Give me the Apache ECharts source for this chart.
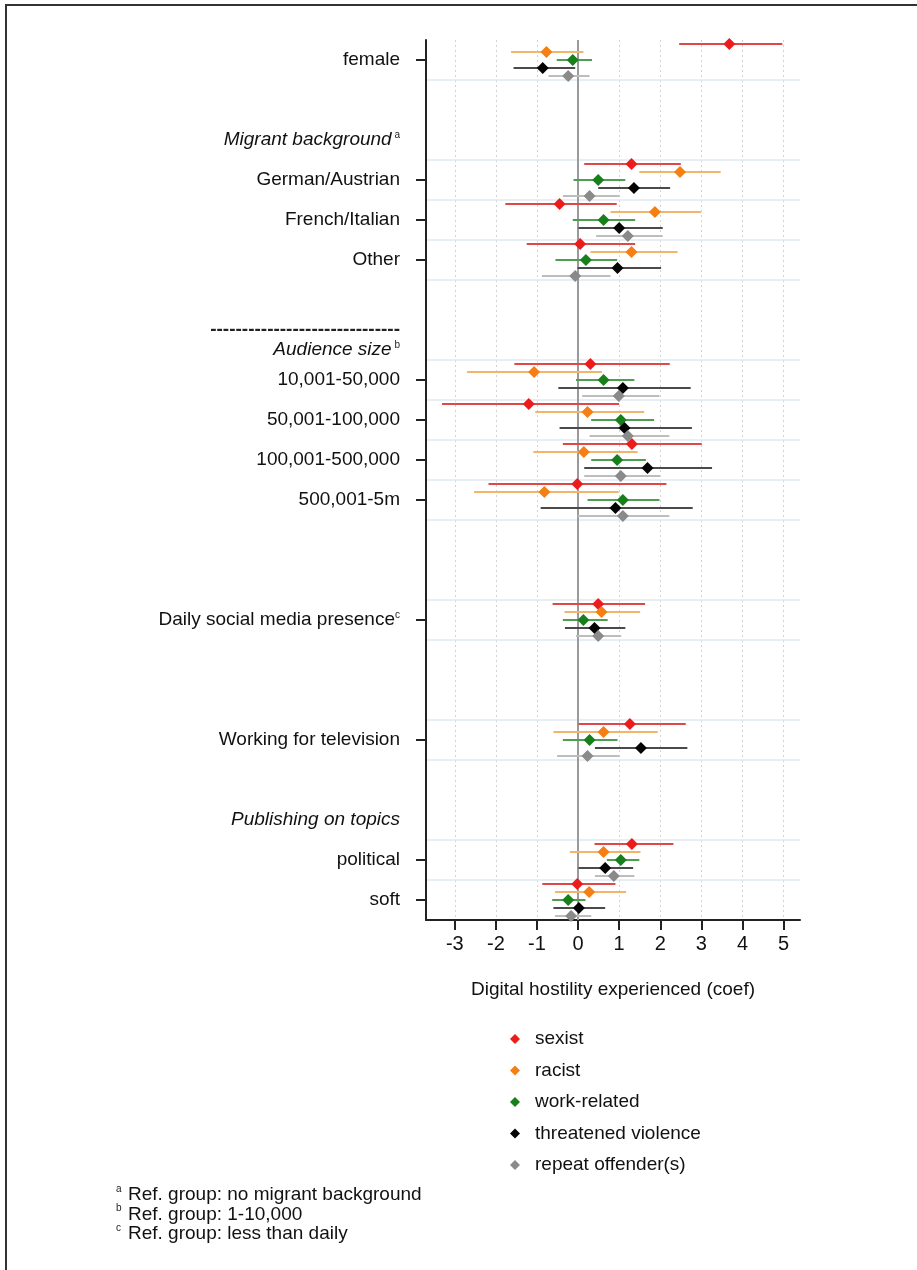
<!DOCTYPE html>
<html>
<head>
<meta charset="utf-8">
<script src="https://cdn.jsdelivr.net/npm/echarts@6/dist/echarts.min.js"></script>
<style>
html,body{margin:0;padding:0;background:#fff;}
#c{width:917px;height:1270px;}
</style>
</head>
<body>
<div id="c"></div>
<script>
// ---------------- DATA ----------------
const rowLabels = ['female','German/Austrian','French/Italian','Other',
  '10,001-50,000','50,001-100,000','100,001-500,000','500,001-5m',
  'Daily social media presence','Working for television','political','soft'];
const seriesNames = ['sexist','racist','work-related','threatened violence','repeat offender(s)'];
const xTicks = [-3,-2,-1,0,1,2,3,4,5];

const sexistCoef = [3.68, 1.30, -0.45, 0.05, 0.30, -1.20, 1.31, -0.02, 0.49, 1.26, 1.31, -0.02];
const sexistLo   = [2.46, 0.15, -1.77, -1.25, -1.55, -3.31, -0.37, -2.18, -0.62, 0.01, 0.40, -0.87];
const sexistHi   = [4.97, 2.50, 0.94, 1.39, 2.23, 1.00, 3.01, 2.15, 1.63, 2.62, 2.32, 0.91];

const racistCoef = [-0.77, 2.48, 1.87, 1.30, -1.07, 0.23, 0.14, -0.82, 0.57, 0.62, 0.62, 0.27];
const racistLo   = [-1.63, 1.49, 0.79, 0.30, -2.70, -1.04, -1.09, -2.53, -0.33, -0.60, -0.20, -0.56];
const racistHi   = [0.13, 3.47, 2.99, 2.42, 0.58, 1.61, 1.45, 0.99, 1.51, 1.94, 1.52, 1.17];

const workCoef = [-0.13, 0.49, 0.62, 0.19, 0.62, 1.04, 0.95, 1.09, 0.13, 0.28, 1.04, -0.24];
const workLo   = [-0.52, -0.11, -0.13, -0.55, -0.05, 0.32, 0.32, 0.23, -0.37, -0.37, 0.70, -0.63];
const workHi   = [0.34, 1.15, 1.39, 0.95, 1.37, 1.85, 1.65, 1.98, 0.72, 0.96, 1.49, 0.18];

const threatCoef = [-0.86, 1.36, 1.00, 0.96, 1.09, 1.13, 1.69, 0.91, 0.40, 1.53, 0.66, 0.02];
const threatLo   = [-1.57, 0.49, 0.01, -0.01, -0.48, -0.45, 0.15, -0.91, -0.32, 0.41, 0.01, -0.60];
const threatHi   = [-0.07, 2.24, 2.06, 2.02, 2.74, 2.77, 3.26, 2.79, 1.15, 2.66, 1.34, 0.66];

const repeatCoef = [-0.24, 0.28, 1.21, -0.07, 0.99, 1.21, 1.04, 1.09, 0.49, 0.23, 0.87, -0.17];
const repeatLo   = [-0.72, -0.37, 0.44, -0.88, 0.10, 0.28, 0.15, -0.01, -0.05, -0.51, 0.41, -0.56];
const repeatHi   = [0.28, 1.00, 2.06, 0.79, 1.98, 2.22, 1.99, 2.22, 1.05, 1.00, 1.37, 0.32];

const footnotes = [
  ['a', 'Ref. group: no migrant background'],
  ['b', 'Ref. group: 1-10,000'],
  ['c', 'Ref. group: less than daily']
];

// ---------------- LAYOUT ----------------
const FONT = '"Liberation Sans", Arial, Helvetica, sans-serif';
const rowSlot = [2, 14, 18, 22, 34, 38, 42, 46, 58, 70, 82, 86]; // vertical slots (10px units)
const seriesOffset = [-1.6, -0.8, 0, 0.8, 1.6];
const NSLOT = 88;
const headers = [
  {slot: 10, text: '{it|Migrant background}{sup| a}'},
  {slot: 29, text: '{dash|------------------------------}'},
  {slot: 31, text: '{it|Audience size}{sup| b}'},
  {slot: 78, text: '{it|Publishing on topics}'}
];
const markerColors = ['#ec1c1c', '#f57f12', '#17801a', '#050505', '#8a8a8a'];
const ciColors = ['#e04848', '#f3b56c', '#4f9d4f', '#4a4a4a', '#bdbdbd'];

const coefs = [sexistCoef, racistCoef, workCoef, threatCoef, repeatCoef];
const los = [sexistLo, racistLo, workLo, threatLo, repeatLo];
const his = [sexistHi, racistHi, workHi, threatHi, repeatHi];

const cats = Array.from({length: NSLOT + 1}, (_, i) => 's' + i);
const labelAt = {};
const tickSet = new Set();
rowLabels.forEach((t, i) => {
  if (t === 'Daily social media presence') labelAt[rowSlot[i]] = '{n|' + t + '}{sup|c}';
  else labelAt[rowSlot[i]] = '{n|' + t + '}';
  tickSet.add(rowSlot[i]);
});
headers.forEach(h => { labelAt[h.slot] = h.text; });

const sepSet = new Set();
rowSlot.forEach(s => { sepSet.add(s - 2); sepSet.add(s + 2); });
const sepLines = [...sepSet].filter(v => v > 0 && v < NSLOT).map(v => ({yAxis: v}));
const gridLines = xTicks.filter(v => v !== 0).map(v => ({xAxis: v}));

const series = [];
// reference/grid lines
series.push({
  type: 'scatter', name: 'grid', yAxisIndex: 1, data: [], silent: true, z: 0,
  markLine: {
    silent: true, symbol: 'none', label: {show: false}, animation: false, z: 0,
    lineStyle: {type: [2, 3], color: '#d2d2d2', width: 1},
    data: gridLines
  }
});
series.push({
  type: 'scatter', name: 'sep', yAxisIndex: 1, data: [], silent: true, z: 0,
  markLine: {
    silent: true, symbol: 'none', label: {show: false}, animation: false, z: 0,
    lineStyle: {type: 'solid', color: '#dfe8f0', width: 1.5},
    data: sepLines
  }
});
series.push({
  type: 'scatter', name: 'zero', yAxisIndex: 1, data: [], silent: true, z: 1,
  markLine: {
    silent: true, symbol: 'none', label: {show: false}, animation: false, z: 1,
    lineStyle: {type: 'solid', color: '#9a9a9a', width: 2},
    data: [{xAxis: 0}]
  }
});
seriesNames.forEach((name, s) => {
  series.push({
    type: 'custom', name: name + ' CI', yAxisIndex: 1, silent: true, z: 2,
    encode: {x: [0, 1], y: 2},
    data: rowLabels.map((_, i) => [los[s][i], his[s][i], rowSlot[i] + seriesOffset[s]]),
    renderItem: (params, api) => {
      const a = api.coord([api.value(0), api.value(2)]);
      const b = api.coord([api.value(1), api.value(2)]);
      return {type: 'line', shape: {x1: a[0], y1: a[1], x2: b[0], y2: b[1]},
        style: {stroke: ciColors[s], lineWidth: 2}};
    }
  });
});
seriesNames.forEach((name, s) => {
  series.push({
    type: 'scatter', name: name, yAxisIndex: 1, z: 3,
    symbol: 'diamond', symbolSize: 12,
    itemStyle: {color: markerColors[s], opacity: 1},
    data: coefs[s].map((v, i) => [v, rowSlot[i] + seriesOffset[s]])
  });
});

const graphics = [
  {type: 'line', shape: {x1: 5, y1: 5, x2: 917, y2: 5}, style: {stroke: '#333', lineWidth: 2}},
  {type: 'line', shape: {x1: 6, y1: 5, x2: 6, y2: 1270}, style: {stroke: '#333', lineWidth: 2}}
];
footnotes.forEach((f, i) => {
  const y = 1195 + i * 19.5;
  graphics.push({type: 'text', style: {x: 116, y: y - 6, text: f[0], fontSize: 10, fill: '#222', fontFamily: FONT, verticalAlign: 'middle'}});
  graphics.push({type: 'text', style: {x: 128, y: y, text: f[1], fontSize: 19, fill: '#111', fontFamily: FONT, verticalAlign: 'middle'}});
});

const chart = echarts.init(document.getElementById('c'), null, {renderer: 'canvas'});
chart.setOption({
  animation: false,
  backgroundColor: '#fff',
  textStyle: {fontFamily: FONT},
  grid: {left: 426, right: 117, top: 40, bottom: 350, containLabel: false},
  xAxis: {
    type: 'value', min: -3.7, max: 5.4, position: 'bottom',
    axisLine: {onZero: false, lineStyle: {color: '#222', width: 2}},
    axisTick: {show: true, customValues: xTicks, length: 10, lineStyle: {color: '#222', width: 2}},
    axisLabel: {customValues: xTicks, fontSize: 20, margin: 14, color: '#111', fontFamily: FONT},
    splitLine: {show: false},
    name: 'Digital hostility experienced (coef)', nameLocation: 'middle', nameGap: 60,
    nameTextStyle: {fontSize: 19, color: '#111', fontFamily: FONT}
  },
  yAxis: [
    {
      type: 'category', data: cats, inverse: true, boundaryGap: false, position: 'left',
      axisLine: {show: true, onZero: false, lineStyle: {color: '#222', width: 2}},
      axisTick: {show: true, length: 10, interval: (i) => tickSet.has(i), lineStyle: {color: '#222', width: 2}},
      axisLabel: {
        interval: (i) => labelAt[i] !== undefined, margin: 26, color: '#111',
        fontSize: 19, fontFamily: FONT,
        formatter: (v, i) => labelAt[i] || '',
        rich: {
          n: {fontSize: 19, color: '#111', fontFamily: FONT},
          it: {fontSize: 19, fontStyle: 'italic', color: '#111', fontFamily: FONT},
          sup: {fontSize: 10, color: '#222', verticalAlign: 'top', fontFamily: FONT},
          dash: {fontSize: 19, fontWeight: 'bold', color: '#222', fontFamily: FONT}
        }
      },
      splitLine: {show: false}
    },
    {type: 'value', min: 0, max: NSLOT, inverse: true, show: false, splitLine: {show: false}}
  ],
  legend: {
    orient: 'vertical', left: 505, top: 1024, icon: 'diamond',
    itemWidth: 10, itemHeight: 10, itemGap: 11.5, selectedMode: false,
    textStyle: {fontSize: 19, color: '#111', lineHeight: 20, fontFamily: FONT, padding: [0, 0, 0, 10]},
    data: seriesNames
  },
  graphic: graphics,
  series: series
});
</script>
</body>
</html>
